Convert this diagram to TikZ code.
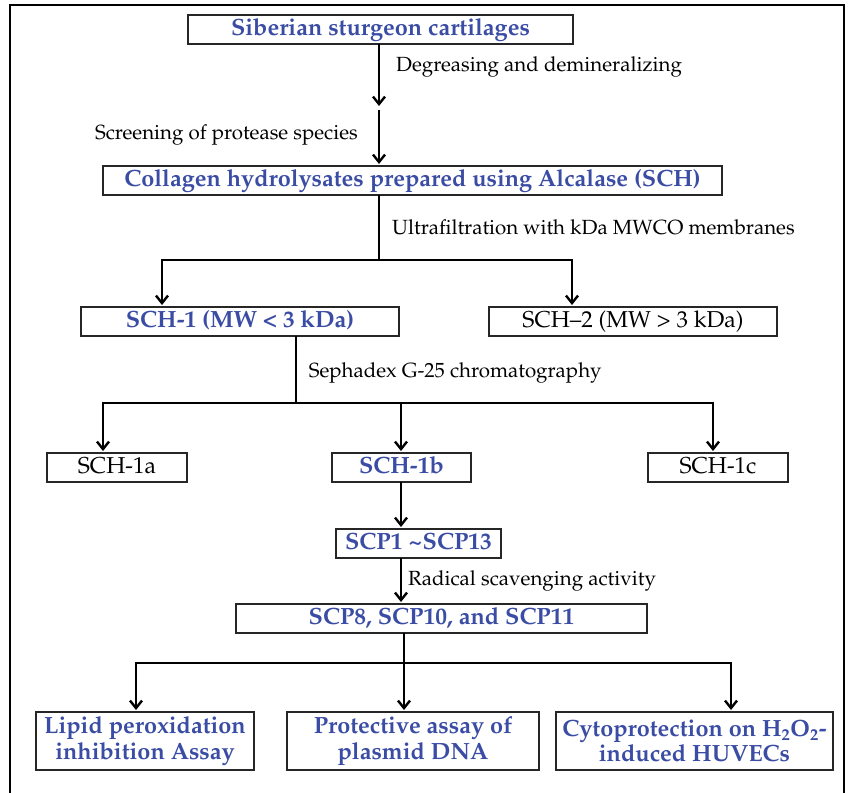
\documentclass[tikz,border=0pt]{standalone}
\usepackage[T1]{fontenc}
\renewcommand{\rmdefault}{ppl}
\usepackage{xcolor}
\usepackage{tikz}
\usetikzlibrary{positioning, arrows.meta, calc}

\definecolor{stepblue}{RGB}{58,76,164}

\begin{document}
\begin{tikzpicture}[
    x=1pt, y=1pt,
    node distance=20pt,
    box/.style={rectangle, draw=black!85, line width=1.6pt, inner sep=1pt, outer sep=0pt, minimum height=29pt, text height=16.5pt, text depth=5pt, font=\fontsize{23}{25}\selectfont},
    keybox/.style={box, text=stepblue, font=\fontsize{23.5}{25}\selectfont\bfseries},
    testbox/.style={rectangle, draw=black!85, line width=1.6pt, inner sep=1pt, outer sep=0pt, minimum height=58pt, align=center, text=stepblue, font=\fontsize{23.5}{25.5}\selectfont\bfseries},
    note/.style={font=\fontsize{20.5}{23}\selectfont, inner sep=0pt},
    arrow/.style={-{Straight Barb[length=7.5pt,width=12pt]}, line width=2.4pt, shorten >=2pt},
    line/.style={line width=2.4pt}
]
    \useasboundingbox (0,0) rectangle (848,-792);

    % Frame (open at the bottom)
    \draw[line width=2pt] (10,-800) -- (10,-5) -- (844,-5) -- (844,-800);

    % Preparation steps
    \node[keybox, minimum width=385pt] (src) at (380.5,-29.5) {Siberian sturgeon cartilages};
    \node[keybox, minimum width=619pt, below=122pt of src, xshift=32pt] (chp) {Collagen hydrolysates prepared using Alcalase (SCH)};

    % Ultrafiltration fractions
    \node[keybox, minimum width=318pt, below=112pt of chp, xshift=-172.5pt] (sch1) {SCH-1 (MW \textless{} 3 kDa)};
    \node[box, minimum width=288pt, right=90pt of sch1] (sch2) {SCH--2 (MW \textgreater{} 3 kDa)};

    % Gel filtration fractions
    \node[keybox, minimum width=139pt, below=117pt of sch1, xshift=161.5pt] (sch1b) {SCH-1b};
    \node[box, minimum width=140pt, left=145pt of sch1b] (sch1a) {SCH-1a};
    \node[box, minimum width=140pt, right=177pt of sch1b] (sch1c) {SCH-1c};

    % Peptides
    \node[keybox, minimum width=165pt, below=47pt of sch1b, xshift=17pt] (scp) {SCP1 \textasciitilde SCP13};
    \node[keybox, minimum width=411pt, below=46pt of scp, xshift=23pt] (sel) {SCP8, SCP10, and SCP11};

    % Assays
    \node[testbox, minimum width=252pt, below=79pt of sel, xshift=-28.5pt] (dna) {Protective assay of\\plasmid DNA};
    \node[testbox, minimum width=218pt, left=33pt of dna] (lipid) {Lipid peroxidation\\inhibition Assay};
    \node[testbox, minimum width=277pt, right=17pt of dna] (cell) {Cytoprotection on H\textsubscript{2}O\textsubscript{2}-\\induced HUVECs};

    % Break points and forks
    \coordinate (brk1) at (379,-106);
    \coordinate (brk2) at (379,-110);
    \coordinate (fork1) at (379,-260);
    \coordinate (fork1l) at (162,-260);
    \coordinate (fork1r) at (572,-260);
    \coordinate (fork2) at (296,-403);
    \coordinate (fork2l) at (103,-403);
    \coordinate (fork2m) at (401,-403);
    \coordinate (fork2r) at (713,-403);
    \coordinate (fork3) at (404,-663);
    \coordinate (fork3l) at (136,-663);
    \coordinate (fork3r) at (731,-663);

    % Edges
    \draw[arrow, shorten >=0pt] (src.south -| brk1) -- (brk1) node[note, midway, right=16pt, yshift=8pt] {Degreasing and demineralizing};
    \draw[arrow] (brk2) -- (brk2 |- chp.north) node[note, midway, left=20pt, yshift=3pt] {Screening of protease species};

    \draw[line] (chp.south -| fork1) -- (fork1) node[note, midway, right=12pt] {Ultrafiltration with kDa MWCO membranes};
    \draw[arrow] (fork1) -- (fork1l) -- (fork1l |- sch1.north);
    \draw[arrow] (fork1) -- (fork1r) -- (fork1r |- sch2.north);

    \draw[line, line width=1.6pt] (sch1.south -| fork2) -- (fork2) node[note, midway, right=12pt, yshift=-3pt] {Sephadex G-25 chromatography};
    \draw[arrow] (fork2) -- (fork2l) -- (fork2l |- sch1a.north);
    \draw[arrow] (fork2) -- (fork2r) -- (fork2r |- sch1c.north);
    \draw[arrow] (fork2m) -- (fork2m |- sch1b.north);

    \draw[arrow] (sch1b.south -| fork2m) -- (fork2m |- scp.north);
    \draw[arrow] (scp.south -| fork2m) -- (fork2m |- sel.north) node[note, midway, right=6pt] {Radical scavenging activity};

    \draw[line] (sel.south -| fork3) -- (fork3);
    \draw[arrow] (fork3) -- (fork3l) -- (fork3l |- lipid.north);
    \draw[arrow] (fork3) -- (fork3r) -- (fork3r |- cell.north);
    \draw[arrow] (fork3) -- (fork3 |- dna.north);

\end{tikzpicture}
\end{document}
